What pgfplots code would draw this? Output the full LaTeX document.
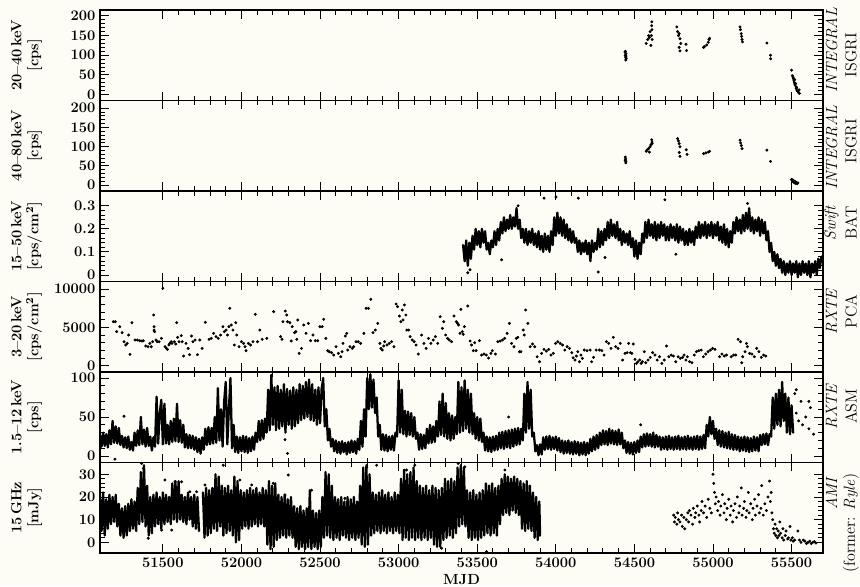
\documentclass[border=0pt]{standalone}
\usepackage{pgfplots}
\pgfplotsset{compat=1.18}
\definecolor{bg}{RGB}{253,253,246}
\tikzset{rl/.style={rotate=90, anchor=center, font=\fontsize{12}{14}\selectfont}}
\begin{document}
\begin{tikzpicture}
\fill[bg] (-75pt,-24.75pt) rectangle (570pt,414.75pt);
\useasboundingbox (-75pt,-24.75pt) rectangle (570pt,414.75pt);
\pgfplotsset{
  panel/.style={
    width=542.25pt, height=67.875pt, scale only axis, anchor=south west,
    xmin=51100, xmax=55700,
    xtick={51500,52000,...,55500}, minor x tick num=4,
    minor y tick num=4,
    tick align=inside,
    major tick length=6.5pt, minor tick length=3.5pt,
    tick style={black, line width=0.7pt},
    axis line style={line width=0.9pt},
    /pgf/number format/1000 sep={},
    /pgf/number format/assume math mode=true,
    scaled ticks=false,
    ticklabel style={font=\fontsize{11}{13}\selectfont\bfseries},
    yticklabel style={inner ysep=0pt},
    every axis y label/.style={at={(axis description cs:-0.1014,0.5)}, rotate=90, anchor=center, align=center, font=\fontsize{11}{12.75}\selectfont\bfseries},
    clip mode=individual,
  },
  pts/.style={only marks, mark=*, mark size=0.9pt, black},
  zz/.style={black, line width=1.7pt, line join=round, line cap=round, mark=none},
}
% ---------------- Panel 1: INTEGRAL ISGRI 20-40 keV
\begin{axis}[panel, at={(0pt,339.375pt)}, xticklabels={}, ymin=-15, ymax=215, ytick={0,50,100,150,200},
  ylabel={20\textendash 40\,keV\\{}[cps]},
  extra description/.code={
    \node[rl] at (axis description cs:1.0118,0.56) {\textit{INTEGRAL}};
    \node[rl] at (axis description cs:1.0387,0.5) {ISGRI};}]
\addplot[pts] coordinates {(54440,108) (54442,100) (54444,95) (54446,104) (54448,92) (54445,88) (54443,110) (54447,98)
(54575,130) (54585,140) (54590,150) (54595,145) (54600,160) (54605,125) (54608,150) (54610,175) (54611,185) (54612,165) (54613,140)
(54770,172) (54775,160) (54780,150) (54785,155) (54790,142) (54785,120) (54790,111) (54795,130) (54828,128) (54832,112)
(54940,120) (54945,122) (54960,126) (54970,133) (54975,140) (54978,143)
(55172,172) (55175,165) (55180,155) (55182,148) (55185,140) (55188,134)
(55343,131) (55366,100) (55367,91)
(55500,62) (55505,48) (55510,44) (55512,40) (55515,35) (55518,30) (55520,38) (55522,25) (55525,28) (55528,20) (55530,15) (55532,18) (55535,10) (55540,8) (55545,5) (55548,12) (55550,3)};
\end{axis}
% ---------------- Panel 2: INTEGRAL ISGRI 40-80 keV
\begin{axis}[panel, at={(0pt,271.5pt)}, xticklabels={}, ymin=-15, ymax=220, ytick={0,50,100,150,200},
  ylabel={40\textendash 80\,keV\\{}[cps]},
  extra description/.code={
    \node[rl] at (axis description cs:1.0118,0.48) {\textit{INTEGRAL}};
    \node[rl] at (axis description cs:1.0387,0.55) {ISGRI};}]
\addplot[pts] coordinates {(54442,73) (54444,68) (54446,62) (54445,58) (54441,65)
(54575,88) (54582,92) (54590,95) (54595,86) (54600,100) (54605,105) (54610,118) (54612,112) (54613,108)
(54775,121) (54780,115) (54785,108) (54790,100) (54785,85) (54790,75) (54830,92) (54835,80)
(54940,82) (54955,84) (54970,86) (54978,88)
(55172,117) (55176,110) (55180,103) (55185,95)
(55343,91) (55366,62)
(55500,15) (55503,12) (55506,14) (55510,10) (55513,8) (55516,11) (55520,6) (55523,9) (55526,5) (55530,7) (55535,4) (55540,6)};
\end{axis}
% ---------------- Panel 3: Swift BAT
\begin{axis}[panel, at={(0pt,203.625pt)}, xticklabels={}, ymin=-0.028, ymax=0.364, ytick={0,0.1,0.2,0.3},
  ylabel={15\textendash 50\,keV\\{}[cps/cm$^{\mathbf{2}}$]},
  extra description/.code={
    \node[rl] at (axis description cs:1.0118,0.65) {\textit{Swift}};
    \node[rl] at (axis description cs:1.0387,0.65) {BAT};}]
\addplot[zz] coordinates {(53410,0.13) (53420,0.06) (53430,0.15) (53440,0.04) (53450,0.14) (53460,0.07) (53470,0.17) (53480,0.11) (53490,0.2) (53500,0.13) (53510,0.19) (53520,0.12) (53530,0.2) (53540,0.14) (53550,0.19) (53560,0.11) (53570,0.14) (53580,0.09) (53590,0.15) (53600,0.12) (53610,0.19) (53620,0.13) (53630,0.2) (53640,0.15) (53650,0.23) (53660,0.18) (53670,0.25) (53680,0.19) (53690,0.24) (53700,0.2) (53710,0.26) (53720,0.2) (53730,0.25) (53740,0.21) (53750,0.29) (53760,0.2) (53770,0.24) (53780,0.16) (53790,0.2) (53800,0.14) (53810,0.2) (53820,0.13) (53830,0.19) (53840,0.14) (53850,0.2) (53860,0.13) (53870,0.18) (53880,0.12) (53890,0.19) (53900,0.11) (53910,0.17) (53920,0.1) (53930,0.18) (53940,0.11) (53950,0.17) (53960,0.1) (53970,0.19) (53980,0.13) (53990,0.25) (54000,0.17) (54010,0.27) (54020,0.18) (54030,0.25) (54040,0.17) (54050,0.24) (54060,0.16) (54070,0.22) (54080,0.15) (54090,0.2) (54100,0.14) (54110,0.19) (54120,0.14) (54130,0.16) (54140,0.1) (54150,0.15) (54160,0.09) (54170,0.14) (54180,0.1) (54190,0.15) (54200,0.09) (54210,0.14) (54220,0.06) (54230,0.15) (54240,0.1) (54250,0.14) (54260,0.11) (54270,0.2) (54280,0.12) (54290,0.19) (54300,0.13) (54310,0.2) (54320,0.15) (54330,0.23) (54340,0.16) (54350,0.24) (54360,0.17) (54370,0.22) (54380,0.16) (54390,0.23) (54400,0.15) (54410,0.2) (54420,0.13) (54430,0.19) (54440,0.14) (54450,0.18) (54460,0.13) (54470,0.19) (54480,0.12) (54490,0.16) (54500,0.08) (54510,0.15) (54520,0.07) (54530,0.14) (54540,0.09) (54550,0.18) (54560,0.14) (54570,0.23) (54580,0.16) (54590,0.24) (54600,0.17) (54610,0.22) (54620,0.16) (54630,0.23) (54640,0.15) (54650,0.22) (54660,0.16) (54670,0.23) (54680,0.17) (54690,0.22) (54700,0.15) (54710,0.21) (54720,0.15) (54730,0.22) (54740,0.16) (54750,0.21) (54760,0.15) (54770,0.22) (54780,0.14) (54790,0.21) (54800,0.15) (54810,0.2) (54820,0.13) (54830,0.19) (54840,0.13) (54850,0.2) (54860,0.14) (54870,0.19) (54880,0.13) (54890,0.21) (54900,0.16) (54910,0.23) (54920,0.16) (54930,0.22) (54940,0.17) (54950,0.23) (54960,0.16) (54970,0.22) (54980,0.17) (54990,0.23) (55000,0.16) (55010,0.22) (55020,0.17) (55030,0.23) (55040,0.15) (55050,0.21) (55060,0.14) (55070,0.22) (55080,0.13) (55090,0.2) (55100,0.12) (55110,0.19) (55120,0.14) (55130,0.23) (55140,0.18) (55150,0.25) (55160,0.19) (55170,0.24) (55180,0.18) (55190,0.26) (55200,0.19) (55210,0.27) (55220,0.2) (55230,0.29) (55240,0.19) (55250,0.25) (55260,0.18) (55270,0.24) (55280,0.19) (55290,0.25) (55300,0.17) (55310,0.24) (55320,0.18) (55330,0.23) (55340,0.15) (55350,0.19) (55360,0.1) (55370,0.14) (55380,0.06) (55390,0.1) (55400,0.04) (55410,0.09) (55420,0.03) (55430,0.07) (55440,0.01) (55450,0.06) (55460,0.0) (55470,0.05) (55480,0.01) (55490,0.06) (55500,0.0) (55510,0.05) (55520,0.01) (55530,0.06) (55540,-0.01) (55550,0.05) (55560,0.0) (55570,0.06) (55580,0.01) (55590,0.05) (55600,0.0) (55610,0.06) (55620,-0.01) (55630,0.05) (55640,0.01) (55650,0.06) (55660,0.0) (55670,0.07) (55680,0.03) (55690,0.08)};
\addplot[pts] coordinates {(53454,0.023) (53440,0.01) (53655,0.066) (53925,0.333) (54001,0.338) (54143,0.333) (54694,0.326) (54270,0.013) (54313,0.076) (54764,0.09) (53760,0.3) (55220,0.31)};
\end{axis}
% ---------------- Panel 4: RXTE PCA
\begin{axis}[panel, at={(0pt,135.75pt)}, xticklabels={}, ymin=-820, ymax=10980, ytick={0,5000,10000},
  ylabel={3\textendash 20\,keV\\{}[cps/cm$^{\mathbf{2}}$]},
  extra description/.code={
    \node[rl] at (axis description cs:1.0118,0.67) {\textit{RXTE}};
    \node[rl] at (axis description cs:1.0387,0.67) {PCA};}]
\addplot[pts] coordinates {(51185,5740) (51197,5740) (51206,4440) (51226,5090) (51241,4310) (51253,3130) (51264,2700) (51273,2910) (51282,4000) (51291,1480) (51303,5610) (51323,3350) (51338,3350) (51353,3260) (51367,3220) (51376,3260) (51391,2570) (51406,2480) (51417,2910) (51426,2480) (51435,3130) (51441,6610) (51444,4650) (51444,5090) (51447,4440) (51456,3350) (51464,3130) (51476,3130) (51491,3570) (51500,10100) (51514,2480) (51523,2260) (51529,2130) (51538,2700) (51544,2910) (51553,3130) (51558,2910) (51573,3130) (51582,2830) (51588,5610) (51594,3700) (51603,3130) (51617,3920) (51623,3130) (51632,1260) (51647,2910) (51661,2260) (51670,1440) (51682,3870) (51691,3130) (51705,3350) (51720,1440) (51735,3350) (51750,2260) (51770,5660) (51794,3440) (51808,3570) (51823,4220) (51838,3790) (51852,3570) (51867,4000) (51882,5090) (51891,4440) (51902,4650) (51911,4000) (51920,5090) (51926,7480) (51935,5310) (51946,4650) (51955,2700) (51964,5610) (51970,4000) (51985,2480) (52000,3130) (52014,2910) (52023,2480) (52029,1960) (52044,2910) (52058,2700) (52073,3130) (52088,6700) (52102,3130) (52117,4650) (52132,3440) (52161,3570) (52205,7050) (52249,3790) (52258,3440) (52264,5740) (52279,7130) (52288,6610) (52293,5740) (52308,5610) (52317,3220) (52323,5090) (52338,4310) (52346,4440) (52352,3440) (52358,5960) (52367,1610) (52382,2260) (52396,5310) (52411,4220) (52426,5520) (52440,3260) (52455,4000) (52470,3260) (52485,3260) (52499,5090) (52514,5090) (52523,6050) (52537,3570) (52549,1960) (52558,1830) (52573,1700) (52587,1390) (52602,2480) (52617,1610) (52632,1170) (52640,1830) (52646,2910) (52661,3870) (52670,4220) (52676,2040) (52690,2480) (52705,2260) (52714,2480) (52729,3130) (52743,3130) (52758,2910) (52779,4220) (52793,7480) (52808,7480) (52823,8660) (52837,4310) (52852,4650) (52867,5520) (52881,2910) (52887,2260) (52896,2040) (52905,2570) (52911,3130) (52926,2700) (52940,2910) (52955,3130) (52970,2480) (52984,8050) (52993,7700) (53005,6480) (53014,5740) (53023,7260) (53028,5960) (53037,7920) (53046,6610) (53052,4650) (53064,4650) (53073,3790) (53087,3350) (53099,3130) (53111,2700) (53125,1520) (53146,4000) (53161,2910) (53175,2260) (53190,3570) (53205,2910) (53220,3350) (53234,3790) (53249,2910) (53264,6390) (53278,4870) (53287,5740) (53299,4000) (53311,3570) (53322,3350) (53337,3130) (53352,6480) (53367,5740) (53375,5520) (53381,5310) (53390,4220) (53396,7350) (53405,4440) (53411,4090) (53419,5090) (53440,7790) (53455,3220) (53464,2700) (53475,1960) (53484,3000) (53493,1960) (53514,3260) (53528,1390) (53543,1520) (53558,1390) (53572,1000) (53587,1610) (53596,1960) (53616,1520) (53631,3130) (53646,3220) (53661,3350) (53675,3570) (53690,4220) (53705,5520) (53719,2910) (53734,2480) (53749,3570) (53758,3700) (53769,1830) (53778,1830) (53793,4650) (53799,4000) (53808,7260) (53822,5520) (53837,2480) (53852,2830) (53866,2480) (53881,1170) (53896,520) (53910,1610) (53925,2130) (53940,1910) (53955,2130) (53969,1390) (53984,1610) (53999,2910) (54013,3130) (54028,2910) (54043,2700) (54057,2040) (54072,2480) (54087,2260) (54102,1700) (54110,1040) (54122,740) (54131,1260) (54140,1830) (54151,520) (54160,1390) (54169,960) (54181,2040) (54199,1960) (54219,2040) (54228,520) (54240,1090) (54257,2040) (54278,2040) (54293,1960) (54307,1390) (54322,3130) (54337,2910) (54351,2260) (54366,3700) (54381,2480) (54396,2260) (54410,2910) (54425,740) (54440,1610) (54454,1700) (54463,2910) (54475,1700) (54484,1610) (54493,2830) (54504,830) (54513,300) (54522,520) (54534,740) (54543,300) (54551,520) (54563,1830) (54572,390) (54587,740) (54601,1090) (54616,1700) (54631,1390) (54645,740) (54660,1170) (54675,300) (54690,740) (54704,2570) (54719,1170) (54734,1390) (54748,1260) (54763,520) (54778,1170) (54792,960) (54807,1090) (54816,1390) (54828,740) (54837,1170) (54851,520) (54866,390) (54881,1390) (54895,1830) (54910,1960) (54925,2040) (54939,1170) (54954,1520) (54969,1830) (54984,2040) (54998,2260) (55013,2130) (55042,1170) (55057,1520) (55072,1260) (55086,1390) (55116,1170) (55131,1390) (55145,1390) (55160,3440) (55175,3130) (55183,390) (55189,1170) (55204,1830) (55213,2910) (55219,2480) (55233,1610) (55248,1520) (55263,1170) (55278,2260) (55292,1830) (55307,1090) (55322,1390) (55336,1260)};
\end{axis}
% ---------------- Panel 5: RXTE ASM
\begin{axis}[panel, at={(0pt,67.875pt)}, xticklabels={}, ymin=-8.3, ymax=107.7, ytick={0,50,100},
  ylabel={1.5\textendash 12\,keV\\{}[cps]},
  extra description/.code={
    \node[rl] at (axis description cs:1.0118,0.62) {\textit{RXTE}};
    \node[rl] at (axis description cs:1.0387,0.62) {ASM};}]
\addplot[zz] coordinates {(51100,27) (51110,12) (51120,30) (51130,13) (51140,28) (51150,11) (51160,33) (51170,15) (51180,45) (51190,17) (51200,38) (51210,16) (51220,36) (51230,14) (51240,26) (51250,11) (51260,24) (51270,10) (51280,25) (51290,8) (51300,18) (51310,7) (51320,30) (51330,13) (51340,33) (51350,14) (51360,50) (51370,15) (51380,34) (51390,12) (51400,36) (51410,13) (51420,25) (51430,7) (51440,24) (51450,12) (51460,76) (51470,16) (51480,55) (51490,72) (51500,15) (51510,67) (51520,16) (51530,40) (51540,15) (51550,45) (51560,18) (51570,48) (51580,19) (51590,67) (51600,18) (51610,46) (51620,17) (51630,40) (51640,11) (51650,28) (51660,10) (51670,27) (51680,10) (51690,26) (51700,8) (51710,24) (51720,5) (51730,22) (51740,3) (51750,24) (51760,8) (51770,35) (51780,14) (51790,37) (51800,15) (51810,36) (51820,16) (51830,50) (51840,17) (51850,87) (51860,20) (51870,60) (51880,12) (51890,70) (51900,95) (51910,15) (51920,60) (51930,100) (51940,10) (51950,40) (51960,5) (51970,25) (51980,4) (51990,24) (52000,6) (52010,26) (52020,5) (52030,25) (52040,4) (52050,23) (52060,6) (52070,25) (52080,8) (52090,30) (52100,18) (52110,45) (52120,20) (52130,46) (52140,22) (52150,48) (52160,30) (52170,85) (52180,33) (52190,104) (52200,40) (52210,88) (52220,33) (52230,90) (52240,35) (52250,85) (52260,38) (52270,92) (52280,30) (52290,86) (52300,40) (52310,84) (52320,35) (52330,88) (52340,38) (52350,85) (52360,42) (52370,92) (52380,46) (52390,90) (52400,48) (52410,95) (52420,50) (52430,98) (52440,46) (52450,92) (52460,45) (52470,85) (52480,40) (52490,88) (52500,42) (52510,86) (52520,100) (52530,38) (52540,60) (52550,20) (52560,35) (52570,12) (52580,22) (52590,6) (52600,20) (52610,4) (52620,18) (52630,3) (52640,19) (52650,5) (52660,17) (52670,2) (52680,18) (52690,4) (52700,20) (52710,5) (52720,19) (52730,3) (52740,22) (52750,8) (52760,45) (52770,12) (52780,60) (52790,25) (52800,100) (52810,60) (52820,105) (52830,62) (52840,98) (52850,55) (52860,75) (52870,25) (52880,40) (52890,8) (52900,28) (52910,7) (52920,27) (52930,6) (52940,25) (52950,8) (52960,26) (52970,7) (52980,30) (52990,25) (53000,97) (53010,30) (53020,85) (53030,28) (53040,58) (53050,25) (53060,57) (53070,27) (53080,55) (53090,25) (53100,50) (53110,22) (53120,30) (53130,8) (53140,28) (53150,9) (53160,27) (53170,10) (53180,35) (53190,16) (53200,40) (53210,17) (53220,38) (53230,18) (53240,45) (53250,25) (53260,70) (53270,27) (53280,80) (53290,25) (53300,68) (53310,22) (53320,55) (53330,20) (53340,52) (53350,22) (53360,50) (53370,28) (53380,95) (53390,30) (53400,88) (53410,32) (53420,97) (53430,35) (53440,85) (53450,30) (53460,80) (53470,28) (53480,55) (53490,22) (53500,50) (53510,20) (53520,48) (53530,18) (53540,30) (53550,7) (53560,25) (53570,6) (53580,24) (53590,5) (53600,25) (53610,7) (53620,26) (53630,8) (53640,30) (53650,10) (53660,31) (53670,9) (53680,32) (53690,11) (53700,33) (53710,10) (53720,34) (53730,12) (53740,35) (53750,14) (53760,36) (53770,15) (53780,35) (53790,20) (53800,80) (53810,30) (53820,95) (53830,35) (53840,85) (53850,25) (53860,30) (53870,6) (53880,14) (53890,1) (53900,15) (53910,2) (53920,24) (53930,8) (53940,25) (53950,9) (53960,26) (53970,8) (53980,24) (53990,9) (54000,25) (54010,7) (54020,23) (54030,5) (54040,20) (54050,3) (54060,19) (54070,4) (54080,20) (54090,3) (54100,18) (54110,2) (54120,19) (54130,3) (54140,18) (54150,1) (54160,17) (54170,2) (54180,18) (54190,1) (54200,17) (54210,3) (54220,22) (54230,6) (54240,25) (54250,8) (54260,27) (54270,10) (54280,30) (54290,14) (54300,33) (54310,15) (54320,32) (54330,14) (54340,35) (54350,16) (54360,33) (54370,15) (54380,32) (54390,14) (54400,34) (54410,15) (54420,30) (54430,10) (54440,20) (54450,4) (54460,18) (54470,3) (54480,17) (54490,2) (54500,18) (54510,4) (54520,20) (54530,5) (54540,25) (54550,11) (54560,28) (54570,12) (54580,29) (54590,13) (54600,28) (54610,12) (54620,30) (54630,11) (54640,27) (54650,12) (54660,25) (54670,8) (54680,24) (54690,9) (54700,25) (54710,8) (54720,26) (54730,9) (54740,24) (54750,8) (54760,25) (54770,9) (54780,26) (54790,8) (54800,24) (54810,9) (54820,25) (54830,8) (54840,26) (54850,9) (54860,24) (54870,8) (54880,25) (54890,9) (54900,26) (54910,8) (54920,25) (54930,9) (54940,27) (54950,10) (54960,40) (54970,25) (54980,50) (54990,28) (55000,45) (55010,22) (55020,35) (55030,14) (55040,33) (55050,12) (55060,32) (55070,11) (55080,30) (55090,10) (55100,31) (55110,9) (55120,28) (55130,8) (55140,27) (55150,8) (55160,25) (55170,6) (55180,24) (55190,7) (55200,25) (55210,6) (55220,24) (55230,5) (55240,23) (55250,6) (55260,25) (55270,7) (55280,24) (55290,6) (55300,27) (55310,14) (55320,28) (55330,15) (55340,29) (55350,14) (55360,28) (55370,25) (55380,75) (55390,35) (55400,80) (55410,40) (55420,85) (55430,38) (55440,95) (55450,45) (55460,80) (55470,30) (55480,75) (55490,28) (55500,65) (55510,30)};
\addplot[pts] coordinates {(55520,80) (55530,55) (55545,45) (55560,70) (55570,40) (55590,50) (55610,35) (55620,62) (55640,28) (55530,85) (51195,-4) (51253,51) (52293,3.4) (52277,21) (53700,50) (54540,40) (55610,70)};
\end{axis}
% ---------------- Panel 6: AMI
\begin{axis}[panel, at={(0pt,0pt)}, ymin=-4.7, ymax=35.2, ytick={0,10,20,30},
  ylabel={15\,GHz\\{}[mJy]},
  xlabel={MJD},
  xlabel style={at={(axis description cs:0.5,-0.298)}, anchor=center, font=\fontsize{11}{13}\selectfont\bfseries},
  extra description/.code={
    \node[rl] at (axis description cs:1.0118,0.66) {\textit{AMI}};
    \node[rl] at (axis description cs:1.0387,0.33) {(former: \textit{Ryle})};}]
\addplot[zz] coordinates {(51100,20) (51110,5) (51120,22) (51130,3) (51140,19) (51150,6) (51160,21) (51170,8) (51180,20) (51190,9) (51200,21) (51210,7) (51220,17) (51230,3) (51240,15) (51250,2) (51260,16) (51270,3) (51280,17) (51290,5) (51300,19) (51310,6) (51320,18) (51330,5) (51340,24) (51350,8) (51360,31) (51370,9) (51380,34) (51390,7) (51400,25) (51410,3) (51420,20) (51430,4) (51440,21) (51450,7) (51460,22) (51470,8) (51480,20) (51490,6) (51500,22) (51510,8) (51520,21) (51530,9) (51540,20) (51550,8) (51560,26) (51570,10) (51580,27) (51590,9) (51600,27) (51610,10) (51620,21) (51630,9) (51640,20) (51650,8) (51660,22) (51670,10) (51680,20) (51690,7) (51700,21) (51710,6) (51720,20) (51730,5)};
\addplot[zz] coordinates {(51755,22) (51765,2) (51775,24) (51785,3) (51795,23) (51805,4) (51815,24) (51825,6) (51835,30) (51845,5) (51855,29) (51865,7) (51875,25) (51885,3) (51895,24) (51905,4) (51915,25) (51925,5) (51935,23) (51945,3) (51955,29) (51965,0) (51975,27) (51985,1) (51995,23) (52005,6) (52015,22) (52025,7) (52035,23) (52045,6) (52055,24) (52065,7) (52075,23) (52085,8) (52095,24) (52105,7) (52115,22) (52125,8) (52135,24) (52145,7) (52155,23) (52165,-1) (52175,27) (52185,-3) (52195,25) (52205,-2) (52215,26) (52225,1) (52235,21) (52245,2) (52255,20) (52265,3) (52275,21) (52285,2) (52295,19) (52305,3) (52315,20) (52325,2) (52335,16) (52345,-2) (52355,15) (52365,-3) (52375,16) (52385,-2) (52395,14) (52405,-3) (52415,15) (52425,-2) (52435,23) (52445,-3) (52455,14) (52465,-2) (52475,13) (52485,-3) (52495,14) (52505,-2) (52515,20) (52525,2) (52535,31) (52545,3) (52555,30) (52565,2) (52575,25) (52585,1) (52595,20) (52605,2) (52615,19) (52625,1) (52635,20) (52645,3) (52655,18) (52665,2) (52675,20) (52685,1) (52695,19) (52705,2) (52715,20) (52725,1) (52735,18) (52745,2) (52755,25) (52765,-1) (52775,33) (52785,-2) (52795,34) (52805,-1) (52815,30) (52825,3) (52835,22) (52845,4) (52855,21) (52865,5) (52875,22) (52885,4) (52895,23) (52905,5) (52915,21) (52925,4) (52935,22) (52945,5) (52955,20) (52965,4) (52975,22) (52985,5) (52995,21) (53005,4) (53015,28) (53025,1) (53035,32) (53045,2) (53055,30) (53065,1) (53075,31) (53085,2) (53095,33) (53105,1) (53115,27) (53125,2) (53135,25) (53145,1) (53155,24) (53165,2) (53175,25) (53185,1) (53195,23) (53205,2) (53215,25) (53225,-1) (53235,24) (53245,-2) (53255,23) (53265,-2) (53275,24) (53285,1) (53295,28) (53305,2) (53315,27) (53325,3) (53335,28) (53345,2) (53355,27) (53365,4) (53375,33) (53385,7) (53395,34) (53405,8) (53415,33) (53425,7) (53435,23) (53445,2) (53455,22) (53465,1) (53475,23) (53485,2) (53495,21) (53505,1) (53515,22) (53525,2) (53535,23) (53545,3) (53555,26) (53565,4) (53575,25) (53585,3) (53595,26) (53605,4) (53615,24) (53625,3) (53635,25) (53645,8) (53655,28) (53665,12) (53675,30) (53685,13) (53695,29) (53705,12) (53715,28) (53725,14) (53735,29) (53745,13) (53755,28) (53765,12) (53775,27) (53785,6) (53795,26) (53805,5) (53815,27) (53825,6) (53835,25) (53845,5) (53855,22) (53865,2) (53875,20) (53885,1) (53895,18) (53900,3)};
\addplot[pts] coordinates {(51365,34.8) (51376,32.6) (51513,27.5) (51577,26.7) (51619,26.7) (51672,22.3) (51715,22.3) (51768,25.3) (51884,34) (51990,27.5) (52065,25.3) (52202,26) (52298,29.7) (52277,20.9) (52446,23) (52605,17) (52658,19.4) (52796,33) (52860,34) (53050,31.9) (53103,34) (53379,34.8) (53421,33.3) (53676,31.9) (53559,-4.1) (53273,-2.6) (51492,5.4) (51556,5.4) (51407,1.8)
(54750,12) (54755,9) (54760,11) (54770,8) (54775,13) (54780,10) (54790,9) (54800,12) (54805,7) (54815,11) (54820,6) (54830,10) (54840,13) (54845,9) (54850,14) (54860,12) (54870,8) (54875,15) (54885,11) (54890,13) (54900,16) (54910,12) (54915,9) (54925,14) (54930,18) (54940,13) (54950,16) (54960,11) (54970,19) (54980,15) (54990,13) (55000,30) (55005,26) (55010,22) (55015,17) (55020,20) (55030,14) (55035,18) (55045,12) (55050,16) (55060,21) (55070,13) (55075,17) (55085,10) (55090,15) (55100,19) (55110,12) (55115,16) (55125,9) (55130,14) (55140,17) (55150,11) (55155,20) (55165,13) (55170,16) (55180,24) (55185,12) (55195,15) (55200,18) (55210,11) (55215,14) (55225,22) (55230,13) (55240,17) (55250,10) (55255,15) (55265,19) (55270,12) (55280,16) (55290,21) (55295,13) (55305,15) (55310,25) (55320,12) (55330,17) (55340,14) (55350,20) (55360,27) (55365,18) (55370,22) (55375,13) (55380,10) (55385,6) (55390,4) (55395,8) (55400,3) (55405,6) (55410,2) (55415,5) (55420,3) (55425,9) (55430,4) (55440,2) (55445,6) (55450,1) (55460,3) (55465,5) (55475,1.5) (55480,2) (55490,7) (55495,1) (55505,2) (55510,0.5) (55520,1) (55540,5) (55550,1) (55560,0) (55575,1) (55585,0.5) (55595,-0.5) (55605,0) (55615,0.5) (55625,-0.5) (55635,0) (55645,0.3) (55655,-0.3)};
\end{axis}
\end{tikzpicture}
\end{document}
